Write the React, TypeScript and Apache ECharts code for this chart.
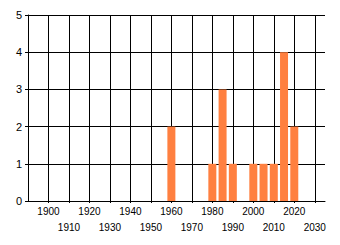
import React, { useEffect, useRef } from "react";
import * as echarts from "echarts";

const years = [1960, 1980, 1985, 1990, 2000, 2005, 2010, 2015, 2020];
const counts = [2, 1, 3, 1, 1, 1, 1, 4, 2];
const xTicks = [1900, 1910, 1920, 1930, 1940, 1950, 1960, 1970, 1980, 1990, 2000, 2010, 2020, 2030];
const xLabelsTop = [1900, 1920, 1940, 1960, 1980, 2000, 2020];
const xLabelsBottom = [1910, 1930, 1950, 1970, 1990, 2010, 2030];

export default function App() {
  const ref = useRef<HTMLDivElement>(null);
  useEffect(() => {
    if (!ref.current) return;
    const chart = echarts.init(ref.current, null, { renderer: "svg" });
    const font = "'Liberation Sans', Arial, sans-serif";
    const labelBase = {
      color: "#000",
      fontFamily: font,
      fontSize: 10,
      showMinLabel: true,
      showMaxLabel: true,
      hideOverlap: false,
      formatter: (v: number) => String(v),
    };
    chart.setOption({
      animation: false,
      backgroundColor: "#ffffff",
      grid: { left: 28, right: 15, top: 15, bottom: 44, containLabel: false },
      xAxis: [
        {
          type: "value",
          position: "bottom",
          min: 1890,
          max: 2035,
          interval: 10,
          axisLine: { show: true, lineStyle: { color: "#000", width: 1 } },
          axisTick: { show: true, length: 2, lineStyle: { color: "#000" }, customValues: xTicks },
          axisLabel: { ...labelBase, customValues: xLabelsTop, margin: 5 },
          splitLine: { show: true, lineStyle: { color: "#000", width: 1 } },
        },
        {
          type: "value",
          position: "bottom",
          offset: 0,
          min: 1890,
          max: 2035,
          interval: 10,
          axisLine: { show: false },
          axisTick: { show: false },
          axisLabel: { ...labelBase, customValues: xLabelsBottom, margin: 21 },
          splitLine: { show: false },
        },
      ],
      yAxis: {
        type: "value",
        min: 0,
        max: 5,
        interval: 1,
        axisLine: { show: true, lineStyle: { color: "#000", width: 1 } },
        axisTick: { show: true, length: 3, lineStyle: { color: "#000" } },
        axisLabel: { color: "#000", fontFamily: font, fontSize: 11, margin: 6 },
        splitLine: { show: true, lineStyle: { color: "#000", width: 1 } },
      },
      series: [
        {
          type: "bar",
          xAxisIndex: 0,
          data: years.map((y, i) => [y, counts[i]]),
          barWidth: 8,
          itemStyle: { color: "#ff8040" },
        },
      ],
    });
    return () => chart.dispose();
  }, []);
  return (
    <div
      ref={ref}
      style={{ position: "absolute", left: 0, top: 0, width: 340, height: 245 }}
    />
  );
}
